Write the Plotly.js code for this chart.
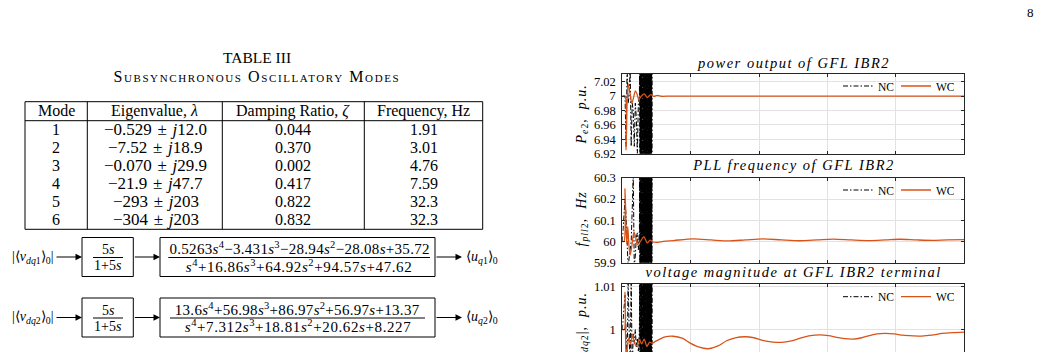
<!DOCTYPE html>
<html>
<head>
<meta charset="utf-8">
<script src="https://cdn.plot.ly/plotly-3.0.1.min.js"></script>
<style>
html,body{margin:0;padding:0;background:#fff;overflow:hidden;}
body{width:1040px;height:352px;}
#chart{width:1040px;height:420px;}
</style>
</head>
<body>
<div id="chart"></div>
<script>
// ---------------- Table III ----------------
const tableHeader = ['Mode', 'Eigenvalue, <i>λ</i>', 'Damping Ratio, <i>ζ</i>', 'Frequency, Hz'];
const modeNumbers = ['1', '2', '3', '4', '5', '6'];
const eigReal = ['−0.529', '−7.52', '−0.070', '−21.9', '−293', '−304'];
const eigImag = ['12.0', '18.9', '29.9', '47.7', '203', '203'];
const dampingRatio = ['0.044', '0.370', '0.002', '0.417', '0.822', '0.832'];
const frequencyHz = ['1.91', '3.01', '4.76', '7.59', '32.3', '32.3'];

// ---------------- transfer functions ----------------
const tfNum1 = [0.5263, -3.431, -28.94, -28.08, 35.72];
const tfDen1 = [1, 16.86, 64.92, 94.57, 47.62];
const tfNum2 = [13.6, 56.98, 86.97, 56.97, 13.37];
const tfDen2 = [1, 7.312, 18.81, 20.62, 8.227];

// ---------------- axis ticks ----------------
const tTicks = [0, 2, 4, 6, 8, 10];
const pTicks = [6.92, 6.94, 6.96, 6.98, 7, 7.02];
const pTickText = ['6.92', '6.94', '6.96', '6.98', '7', '7.02'];
const fTicks = [59.9, 60, 60.1, 60.2, 60.3];
const fTickText = ['59.9', '60', '60.1', '60.2', '60.3'];
const vTicks = [0.99, 1, 1.01];
const vTickText = ['0.99', '1', '1.01'];

// ---------------- NC (no control) — unstable, shared time base ----------------
const tNC = [0, 0.08, 0.11, 0.14, 0.17, 0.2, 0.23, 0.26, 0.29, 0.32, 0.35, 0.38, 0.41, 0.44, 0.47, 0.5,
  0.510, 0.515, 0.520, 0.525, 0.530, 0.535, 0.540, 0.545, 0.550, 0.555,
  0.560, 0.565, 0.570, 0.575, 0.580, 0.585, 0.590, 0.595, 0.600, 0.605,
  0.610, 0.615, 0.620, 0.625, 0.630, 0.635, 0.640, 0.645, 0.650, 0.655,
  0.660, 0.665, 0.670, 0.675, 0.680, 0.685, 0.690, 0.695, 0.700, 0.705,
  0.710, 0.715, 0.720, 0.725, 0.730, 0.735, 0.740, 0.745, 0.750, 0.755,
  0.760, 0.765, 0.770, 0.775, 0.780, 0.785, 0.790, 0.795, 0.800, 0.805,
  0.810, 0.815, 0.820, 0.825, 0.830, 0.835, 0.840, 0.845, 0.850, 0.855,
  0.860, 0.865, 0.870];
const pNC = [7.0, 7.0, 6.93, 7.04, 6.99, 7.0, 7.04, 6.93, 6.99, 6.98, 6.93, 6.99, 6.97, 6.92, 6.99, 7.0,
  7.08, 6.88, 7.11, 6.86, 7.06, 6.90, 7.13, 6.87, 7.09, 6.85,
  7.05, 6.89, 7.12, 6.86, 7.07, 6.91, 7.10, 6.87, 7.14, 6.84,
  7.06, 6.90, 7.09, 6.88, 7.11, 6.85, 7.07, 6.89, 7.13, 6.86,
  7.05, 6.91, 7.10, 6.87, 7.12, 6.84, 7.08, 6.90, 7.06, 6.88,
  7.14, 6.86, 7.09, 6.89, 7.05, 6.85, 7.11, 6.87, 7.07, 6.91,
  7.13, 6.84, 7.08, 6.90, 7.10, 6.86, 7.06, 6.88, 7.12, 6.85,
  7.09, 6.89, 7.07, 6.87, 7.14, 6.90, 7.05, 6.86, 7.11, 6.88,
  7.08, 6.85, 7.10];
const fNC = [60.0, 60.2, 60.12, 60.0, 59.88, 59.92, 59.96, 60.0, 60.15, 60.32, 59.88, 59.93, 60.02, 60.04, 59.96, 60.05,
  60.36, 59.84, 60.39, 59.82, 60.34, 59.86, 60.41, 59.83, 60.37, 59.81,
  60.33, 59.85, 60.40, 59.82, 60.35, 59.87, 60.38, 59.83, 60.42, 59.80,
  60.34, 59.86, 60.37, 59.84, 60.39, 59.81, 60.35, 59.85, 60.41, 59.82,
  60.33, 59.87, 60.38, 59.83, 60.40, 59.80, 60.36, 59.86, 60.34, 59.84,
  60.42, 59.82, 60.37, 59.85, 60.33, 59.81, 60.39, 59.83, 60.35, 59.87,
  60.41, 59.80, 60.36, 59.86, 60.38, 59.82, 60.34, 59.84, 60.40, 59.81,
  60.37, 59.85, 60.35, 59.83, 60.42, 59.86, 60.33, 59.82, 60.39, 59.84,
  60.36, 59.81, 60.38];
const vNC = [1.0, 1.008, 0.999, 0.99, 1.012, 1.0, 0.99, 1.012, 0.99, 0.999, 0.997, 1.0, 0.996, 0.998, 0.995, 1.0,
  1.013, 0.989, 1.015, 0.987, 1.012, 0.990, 1.016, 0.988, 1.014, 0.986,
  1.012, 0.989, 1.015, 0.987, 1.013, 0.990, 1.014, 0.988, 1.016, 0.986,
  1.012, 0.990, 1.014, 0.989, 1.015, 0.986, 1.013, 0.989, 1.016, 0.987,
  1.012, 0.990, 1.014, 0.988, 1.015, 0.986, 1.013, 0.990, 1.012, 0.989,
  1.016, 0.987, 1.014, 0.989, 1.012, 0.986, 1.015, 0.988, 1.013, 0.990,
  1.016, 0.986, 1.013, 0.990, 1.014, 0.987, 1.012, 0.989, 1.015, 0.986,
  1.014, 0.989, 1.013, 0.988, 1.016, 0.990, 1.012, 0.987, 1.015, 0.989,
  1.013, 0.986, 1.014];

// ---------------- WC (with control) ----------------
const tWCp = [0, 0.08, 0.11, 0.14, 0.17, 0.22, 0.28, 0.33, 0.38, 0.43, 0.48, 0.56, 0.64, 0.73, 0.83, 0.92, 1.02, 1.15, 1.4, 2, 4, 6, 8, 10];
const pWC = [7.0, 7.0, 6.925, 6.99, 7.017, 7.006, 6.99, 6.998, 7.007, 7.003, 6.995, 7.0, 7.003, 6.998, 7.002, 6.9995, 7.0008, 6.9997, 7.0, 7.0, 7.0, 7.0, 7.0, 7.0];

const tWCf = [0, 0.05, 0.08, 0.11, 0.13, 0.16, 0.19, 0.23, 0.28, 0.34, 0.39, 0.44, 0.53, 0.63, 0.73, 0.81, 0.9, 1.0, 1.2, 1.5,
  2.07, 2.6, 3.09, 3.6, 4.11, 4.65, 5.19, 5.7, 6.16, 6.7, 7.23, 7.7, 8.12, 8.6, 9.06, 9.5, 10];
const fWC = [60.0, 60.0, 60.25, 60.06, 59.99, 60.07, 59.99, 59.935, 59.98, 60.045, 60.02, 59.985, 60.0, 60.022, 59.993, 60.006, 59.997, 59.995, 60.0, 60.004,
  60.012, 60.007, 60.002, 60.007, 60.012, 60.007, 60.003, 60.007, 60.011, 60.007, 60.004, 60.007, 60.01, 60.007, 60.005, 60.007, 60.008];

const tWCv = [0, 0.06, 0.08, 0.11, 0.15, 0.19, 0.24, 0.30, 0.36, 0.42, 0.50, 0.57, 0.64, 0.72, 0.80, 0.88, 0.95, 1.1, 1.25,
  1.49, 1.75, 2.0, 2.25, 2.51, 2.8, 3.05, 3.3, 3.59, 3.85, 4.1, 4.4, 4.66, 4.95, 5.2, 5.5, 5.78, 6.03, 6.27, 6.5, 6.75,
  7.0, 7.23, 7.45, 7.68, 7.95, 8.2, 8.5, 8.75, 9.05, 9.35, 9.65, 10];
const vWC = [1.0, 1.0, 1.0087, 0.993, 0.996, 0.998, 0.9966, 0.9988, 0.9968, 0.9962, 0.9977, 0.9967, 0.9978, 0.9961, 0.9971, 0.9968, 0.9972, 0.9978, 0.9983,
  0.99845, 0.998, 0.9968, 0.9959, 0.99555, 0.9962, 0.9974, 0.9981, 0.99833, 0.9981, 0.9975, 0.9971, 0.99702, 0.9974, 0.998, 0.9986, 0.99879, 0.9986, 0.9982, 0.9979, 0.9978,
  0.9981, 0.9986, 0.999, 0.99912, 0.999, 0.9987, 0.99855, 0.99849, 0.9987, 0.9991, 0.9993, 0.99942];

// ---------------- geometry helpers ----------------
const W = 1040, H = 420;
const fx = x => x / W, fy = y => 1 - y / H;
const PX0 = 622.3, PX1 = 964.3;
const PAN = [{top: 74, bot: 153.5}, {top: 178, bot: 262.5}, {top: 284, bot: 364}];
const ORANGE = '#D95319';
const SERIF = '"Liberation Serif", "Times New Roman", serif';
const NCDASH = '5px,2px,1.5px,2px';

function xAx(anchor) {
  return {domain: [fx(PX0), fx(PX1)], range: [0, 10], anchor: anchor, tickvals: tTicks, showticklabels: false,
    ticks: 'inside', ticklen: 3, tickcolor: '#262626', showline: true, mirror: 'ticks', linecolor: '#262626',
    linewidth: 1, showgrid: true, gridcolor: '#e2e2e2', gridwidth: 1, zeroline: false, fixedrange: true};
}
function yAx(anchor, pan, range, vals, text) {
  return {domain: [fy(pan.bot), fy(pan.top)], range: range, anchor: anchor, tickvals: vals, ticktext: text,
    ticks: 'inside', ticklen: 3, tickcolor: '#262626', showline: true, mirror: 'ticks', linecolor: '#262626',
    linewidth: 1, showgrid: true, gridcolor: '#e2e2e2', gridwidth: 1, zeroline: false, fixedrange: true,
    ticklabelstandoff: 3, tickfont: {family: SERIF, size: 12.5, color: '#000'}};
}
function legendAt(yc) {
  return {orientation: 'h', x: fx(954), xanchor: 'right', y: fy(yc), yanchor: 'middle',
    bgcolor: 'rgba(255,255,255,0)', font: {family: SERIF, size: 11.5, color: '#000'},
    itemwidth: 30, borderwidth: 0, entrywidth: 13};
}
const ncLine = {color: '#000', width: 1, dash: NCDASH, simplify: false};
const wcLine = {color: ORANGE, width: 1.3, shape: 'spline', smoothing: 0.8};

const traces = [
  {x: tNC, y: pNC, xaxis: 'x', yaxis: 'y', mode: 'lines', name: 'NC', legend: 'legend', line: ncLine},
  {x: tWCp, y: pWC, xaxis: 'x', yaxis: 'y', mode: 'lines', name: 'WC', legend: 'legend', line: wcLine},
  {x: tNC, y: fNC, xaxis: 'x2', yaxis: 'y2', mode: 'lines', name: 'NC', legend: 'legend2', line: ncLine},
  {x: tWCf, y: fWC, xaxis: 'x2', yaxis: 'y2', mode: 'lines', name: 'WC', legend: 'legend2', line: wcLine},
  {x: tNC, y: vNC, xaxis: 'x3', yaxis: 'y3', mode: 'lines', name: 'NC', legend: 'legend3', line: ncLine},
  {x: tWCv, y: vWC, xaxis: 'x3', yaxis: 'y3', mode: 'lines', name: 'WC', legend: 'legend3', line: wcLine}
];

// ---------------- annotations & shapes ----------------
const ann = [];
const shp = [];
const spacing = [];   // [annotation index, letter-spacing px]
function txt(x, y, text, size, opts, ls) {
  if (ls) spacing.push([ann.length, ls]);
  ann.push(Object.assign({xref: 'paper', yref: 'paper', x: fx(x), y: fy(y), text: text, showarrow: false,
    xanchor: 'center', yanchor: 'middle', font: {family: SERIF, size: size, color: '#000'}}, opts || {}));
}
function line(x0, y0, x1, y1) {
  shp.push({type: 'line', xref: 'paper', yref: 'paper', x0: fx(x0), y0: fy(y0), x1: fx(x1), y1: fy(y1), line: {color: '#000', width: 1}});
}
function rect(x0, y0, x1, y1) {
  shp.push({type: 'rect', xref: 'paper', yref: 'paper', x0: fx(x0), y0: fy(y0), x1: fx(x1), y1: fy(y1), line: {color: '#000', width: 1}});
}
function arrow(xTail, xHead, y) {
  ann.push({xref: 'paper', yref: 'paper', x: fx(xHead), y: fy(y), ax: -(xHead - xTail), ay: 0, axref: 'pixel', ayref: 'pixel',
    text: '', showarrow: true, arrowhead: 2, arrowsize: 1.3, arrowwidth: 1, arrowcolor: '#000', standoff: 0, startstandoff: 0});
}
function poly(c) {
  let s = '';
  c.forEach((v, i) => {
    const p = c.length - 1 - i;
    const mag = Math.abs(v);
    const sign = v < 0 ? '−' : (i === 0 ? '' : '+');
    const coef = (mag === 1 && p > 0) ? '' : String(mag);
    s += sign + coef + (p > 0 ? '<i>s</i>' : '') + (p > 1 ? '<sup>' + p + '</sup>' : '');
  });
  return s;
}

// page number
txt(1030, 12, '8', 13);

// table caption
txt(257, 58, 'TABLE III', 15.5);
txt(257, 76, 'Subsynchronous Oscillatory Modes', 16, {font: {family: SERIF, size: 16, color: '#000', variant: 'small-caps'}}, 1.6);

// table frame
const TX = [25, 87.3, 222.3, 364.3, 482.7];
const TY0 = 101.7, TYH = 120.7, TY1 = 229.3;
rect(TX[0], TY0, TX[4], TY1);
line(TX[1], TY0, TX[1], TY1);
line(TX[2], TY0, TX[2], TY1);
line(TX[3], TY0, TX[3], TY1);
line(TX[0], TYH, TX[4], TYH);
const colC = [0, 1, 2, 3].map(i => (TX[i] + TX[i + 1]) / 2);
tableHeader.forEach((h, i) => txt(colC[i], 111, h, 16));
modeNumbers.forEach((m, r) => {
  const y = 129.5 + r * 18.05;
  txt(colC[0], y, m, 16);
  txt(colC[1] + 1, y, eigReal[r] + '\u2004±\u2004<i>j</i>' + eigImag[r], 17);
  txt(colC[2], y, dampingRatio[r], 16);
  txt(colC[3], y, frequencyHz[r], 16);
});

// block diagrams
const rows = [
  {yc: 257, inp: '|⟨<i>v</i><sub><i>dq</i>1</sub>⟩<sub>0</sub>|', out: '⟨<i>u</i><sub><i>q</i>1</sub>⟩<sub>0</sub>', num: tfNum1, den: tfDen1, fl: [168.3, 430]},
  {yc: 317.5, inp: '|⟨<i>v</i><sub><i>dq</i>2</sub>⟩<sub>0</sub>|', out: '⟨<i>u</i><sub><i>q</i>2</sub>⟩<sub>0</sub>', num: tfNum2, den: tfDen2, fl: [170, 425]}
];
rows.forEach(r => {
  const y = r.yc;
  rect(82, y - 19.5, 133.3, y + 19.5);
  rect(160, y - 19.5, 435, y + 19.5);
  txt(54.5, y, r.inp, 14, {xanchor: 'right'});
  arrow(55, 82, y);
  arrow(133.3, 160, y);
  arrow(435, 462, y);
  txt(464, y, r.out, 14, {xanchor: 'left'});
  // washout 5s/(1+5s)
  line(93, y + 0.5, 123, y + 0.5);
  txt(108, y - 7.5, '5<i>s</i>', 14);
  txt(108, y + 8.5, '1+5<i>s</i>', 14);
  // fourth-order transfer function
  line(r.fl[0], y + 0.5, r.fl[1], y + 0.5);
  txt((r.fl[0] + r.fl[1]) / 2, y - 9, poly(r.num), 15, null, 0.3);
  txt((r.fl[0] + r.fl[1]) / 2, y + 8.5, poly(r.den), 15, null, 0.6);
});

// subplot titles
const PC = (PX0 + PX1) / 2;
const titles = ['power output of GFL IBR2', 'PLL frequency of GFL IBR2', 'voltage magnitude at GFL IBR2 terminal'];
const titleY = [63.3, 165, 271.7];
titles.forEach((t, i) => txt(PC, titleY[i], '<i>' + t + '</i>', 14.5, null, 1.5));

// y-axis titles
const yTitles = ['<i>P</i><sub><i>e</i>2</sub><i>,  p.u.</i>', '<i>f</i><sub><i>pll</i>2</sub><i>,  Hz</i>', '|<i>v</i><sub><i>dq</i>2</sub>|<i>,  p.u.</i>'];
const yTitleC = [115, 219, 328];
yTitles.forEach((t, i) => txt(581.5, yTitleC[i], t, 14, {textangle: -90}, 1));

// letter-spacing for math-style texts
const css = spacing.map(([i, ls]) => '.annotation[data-index="' + i + '"] text{letter-spacing:' + ls + 'px}').join('\n');
const st = document.createElement('style');
st.textContent = css;
document.head.appendChild(st);

const layout = {
  width: W, height: H, margin: {l: 0, r: 0, t: 0, b: 0},
  paper_bgcolor: '#fff', plot_bgcolor: '#fff',
  showlegend: true,
  xaxis: xAx('y'), yaxis: yAx('x', PAN[0], [6.92, 7.0307], pTicks, pTickText),
  xaxis2: xAx('y2'), yaxis2: yAx('x2', PAN[1], [59.9, 60.3], fTicks, fTickText),
  xaxis3: xAx('y3'), yaxis3: yAx('x3', PAN[2], [0.992, 1.0106], vTicks, vTickText),
  legend: legendAt(86), legend2: legendAt(190), legend3: legendAt(296.7),
  annotations: ann, shapes: shp
};

Plotly.newPlot('chart', traces, layout, {staticPlot: true, displayModeBar: false});
</script>
</body>
</html>
